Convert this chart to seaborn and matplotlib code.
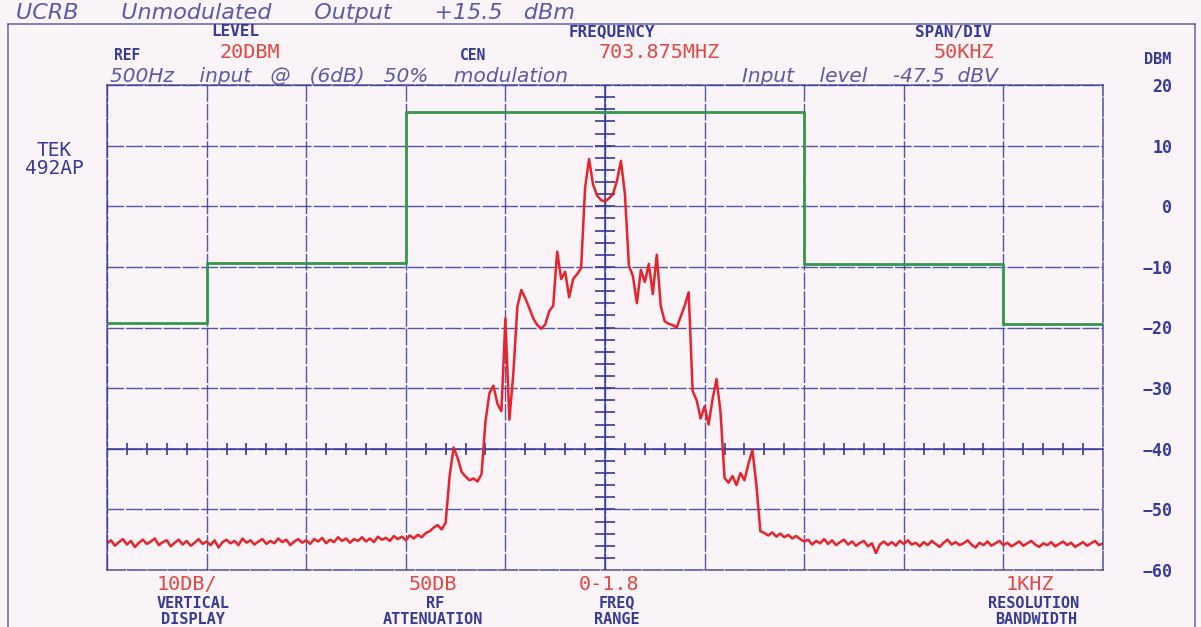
import numpy as np
import matplotlib
matplotlib.use("Agg")
import matplotlib.pyplot as plt
from matplotlib.lines import Line2D
import seaborn as sns

# Spectrum analyzer trace (offset from 703.875 MHz, 2 kHz per sample)
trace_dbm = [
    # -250 .. -90 kHz : noise floor
    -55.6, -55.1, -56.0, -55.4, -54.9, -55.8, -55.2, -56.2, -55.5, -55.0,
    -55.7, -55.3, -54.8, -55.9, -55.4, -55.1, -56.1, -55.5, -55.0, -55.8,
    -55.2, -56.0, -55.5, -54.9, -55.7, -55.3, -55.9, -55.1, -56.3, -55.4,
    -55.0, -55.6, -55.2, -55.9, -54.8, -55.5, -55.1, -55.8, -55.3, -54.9,
    -55.7, -55.2, -55.6, -54.8, -55.4, -55.0, -55.9, -55.3, -54.9, -55.5,
    -55.1, -55.7, -54.9, -55.3, -54.7, -55.6, -55.0, -55.4, -54.6, -55.2,
    -54.8, -55.5, -54.9, -55.2, -54.6, -55.3, -54.8, -55.4, -54.5, -55.0,
    -54.7, -55.2, -54.4, -54.9, -54.5, -55.1, -54.3, -54.8, -54.2, -54.6,
    -53.9,
    # -88 .. -80
    -53.6, -53.0, -52.6, -53.3, -52.2,
    # -78 .. -62
    -44.5, -39.8, -41.5, -43.8, -44.6, -45.2, -44.9, -45.4, -44.2,
    # -60 .. 78 : modulated carrier
    -35.5, -30.8, -29.6, -32.6, -33.8, -18.5, -35.2, -27.5, -16.6, -13.8,
    -15.2, -16.8, -18.5, -19.6, -20.2, -19.5, -17.3, -16.4, -7.5, -12.0,
    -10.8, -15.0, -12.0, -11.2, -10.2, 3.0, 7.8, 3.6, 1.8, 1.0,
    0.8, 1.3, 2.0, 4.2, 7.5, 2.0, -9.8, -11.5, -16.0, -10.5,
    -12.5, -9.5, -14.5, -8.0, -16.5, -19.0, -19.4, -19.6, -20.0, -18.2,
    -16.4, -14.2, -30.5, -32.0, -35.0, -33.0, -36.0, -31.8, -28.5, -34.0,
    -44.8, -45.6, -44.5, -46.0, -44.0, -45.2, -42.5, -40.2, -46.0, -53.6,
    # 80 .. 250 : noise floor
    -53.9, -54.3, -53.8, -54.5, -54.0, -54.6, -54.2, -54.8, -54.4, -54.9,
    -55.3, -55.0, -55.8, -55.2, -55.6, -54.9, -55.7, -55.1, -55.9, -55.4,
    -55.0, -55.8, -55.3, -56.0, -55.5, -55.2, -56.1, -55.6, -57.2, -55.8,
    -55.3, -55.9, -55.4, -56.0, -55.2, -55.7, -55.1, -55.8, -55.5, -56.1,
    -55.4, -55.9, -55.2, -55.7, -56.2, -55.5, -55.0, -55.8, -55.4, -55.9,
    -55.6, -55.1, -55.8, -56.3, -55.5, -55.9, -55.3, -56.0, -55.6, -55.2,
    -55.9, -55.5, -56.1, -55.7, -55.3, -56.0, -55.6, -55.2, -55.8, -56.2,
    -55.6, -55.9, -55.4, -56.1, -55.7, -55.3, -55.9, -55.5, -56.2, -55.8,
    -55.4, -56.0, -55.6, -55.2, -55.9, -55.6,
]
freq_khz = np.linspace(-250, 250, len(trace_dbm))

# green emission mask (step edges)
mask_khz = [-250, -200, -100, 100, 200, 250]
mask_dbm = [-19.3, -9.3, 15.6, -9.5, -19.4, -19.4]

y_ticks = [20, 10, 0, -10, -20, -30, -40, -50, -60]

BG = "#faf3f8"
BLUE = "#363a98"
RED = "#e24a42"
MONO = "DejaVu Sans Mono"

sns.set_theme(style="white")
plt.rcParams["font.family"] = ["DejaVu Sans"]

fig = plt.figure(figsize=(12.01, 6.27), dpi=100, facecolor=BG)
ax = fig.add_axes([107 / 1201, 1 - 570 / 627, 996 / 1201, 485 / 627])
ax.set_facecolor(BG)

# graticule
ax.set_xlim(-250, 250)
ax.set_ylim(-60, 20)
ax.set_xticks(np.arange(-250, 251, 50))
ax.set_yticks(y_ticks)
ax.grid(True, color=BLUE, lw=1.0, ls=(0, (12, 1.5)), alpha=0.85)
for s in ax.spines.values():
    s.set_color(BLUE)
    s.set_linewidth(1.1)
    s.set_linestyle((0, (12, 1.5)))
    s.set_alpha(0.85)

# minor marks on centre line and -40 line
ax.hlines(np.arange(-58, 20, 2), -5, 5, color=BLUE, lw=1.4, alpha=0.85)
minor_x = [v for v in range(-240, 250, 10) if v % 50 != 0]
ax.vlines(minor_x, -41, -39, color=BLUE, lw=1.4, alpha=0.85)
ax.axvline(0, color=BLUE, lw=1.2, alpha=0.9)
ax.axhline(-40, color=BLUE, lw=1.2, alpha=0.9)

sns.lineplot(x=mask_khz, y=mask_dbm, ax=ax, color="#33994a", lw=2.0,
             drawstyle="steps-post")
sns.lineplot(x=freq_khz, y=trace_dbm, ax=ax, color="#e8232a", lw=1.8)

ax.set_xlabel("")
ax.set_ylabel("")
ax.tick_params(axis="x", length=0, labelbottom=False)
ax.yaxis.tick_right()
ax.tick_params(axis="y", length=0, pad=50, labelsize=12, labelcolor=BLUE)
for lab in ax.get_yticklabels():
    lab.set_fontfamily(MONO)
    lab.set_fontweight("bold")
    lab.set_horizontalalignment("right")


def put(x, y, s, color=BLUE, size=10, weight="bold", family=MONO, **kw):
    fig.text(x / 1201, 1 - y / 627, s, color=color, fontsize=size,
             fontweight=weight, family=family, ha="center", va="center", **kw)


# header
put(235, 32, "LEVEL", size=11.5)
put(127, 55, "REF", size=10.5)
put(250, 53, "20DBM", color=RED, size=14.5, weight="normal")
put(473, 55, "CEN", size=10.5)
put(612, 32, "FREQUENCY", size=11.5)
put(659, 52, "703.875MHZ", color=RED, size=14.5, weight="normal")
put(953, 32, "SPAN/DIV", size=11.5)
put(964, 52, "50KHZ", color=RED, size=14.5, weight="normal")
put(1158, 60, "DBM", size=11)

put(54, 150, "TEK", size=14, weight="normal")
put(54, 169, "492AP", size=14, weight="normal")

# footer
put(187, 585, "10DB/", color=RED, size=14.5, weight="normal")
put(193, 603, "VERTICAL", size=11)
put(193, 619, "DISPLAY", size=11)
put(433, 585, "50DB", color=RED, size=14.5, weight="normal")
put(435, 603, "RF", size=11)
put(433, 619, "ATTENUATION", size=11)
put(609, 585, "0-1.8", color=RED, size=14.5, weight="normal")
put(617, 603, "FREQ", size=11)
put(617, 619, "RANGE", size=11)
put(1030, 585, "1KHZ", color=RED, size=14.5, weight="normal")
put(1034, 603, "RESOLUTION", size=11)
put(1036, 619, "BANDWIDTH", size=11)

# handwritten notes
HAND = "#5a5aa8"
fig.text(16 / 1201, 1 - 13 / 627,
         "UCRB      Unmodulated      Output      +15.5   dBm",
         ha="left", va="center", color=HAND, fontsize=16,
         fontstyle="italic", fontweight="light")
fig.text(110 / 1201, 1 - 77 / 627,
         "500Hz    input   @   (6dB)   50%    modulation",
         ha="left", va="center", color=HAND, fontsize=14.5,
         fontstyle="italic", fontweight="light")
fig.text(742 / 1201, 1 - 77 / 627, "Input    level    -47.5  dBV",
         ha="left", va="center", color=HAND, fontsize=14.5,
         fontstyle="italic", fontweight="light")

# outer frame of the screen printout
frame_kw = dict(color=BLUE, lw=1.2, alpha=0.7, transform=fig.transFigure)
fig.add_artist(Line2D([8 / 1201, 1195 / 1201], [1 - 24 / 627] * 2, **frame_kw))
fig.add_artist(Line2D([8 / 1201] * 2, [0, 1 - 24 / 627], **frame_kw))
fig.add_artist(Line2D([1195 / 1201] * 2, [0, 1 - 24 / 627], **frame_kw))

fig.savefig("out.png", dpi=100, facecolor=BG)
